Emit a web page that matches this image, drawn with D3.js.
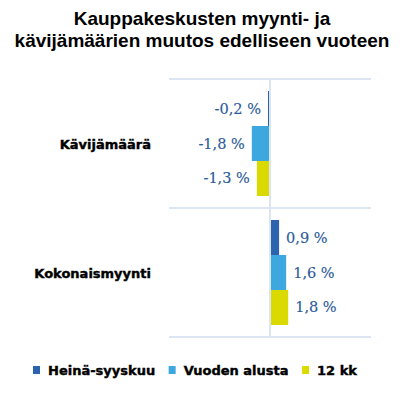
<!DOCTYPE html>
<html>
<head>
<meta charset="utf-8">
<script src="https://cdn.jsdelivr.net/npm/d3@7"></script>
<style>
  html, body { margin: 0; padding: 0; background: #fff; }
  svg { display: block; }
</style>
</head>
<body>
<svg id="chart" width="404" height="395"></svg>
<script>
const titleLines = ["Kauppakeskusten myynti- ja", "kävijämäärien muutos edelliseen vuoteen"];
const categories = ["Kävijämäärä", "Kokonaismyynti"];
const seriesNames = ["Heinä-syyskuu", "Vuoden alusta", "12 kk"];
const seriesColors = ["#2B63AE", "#3DA8DF", "#DADA00"];
const heinaSyyskuu = [-0.2, 0.9];
const vuodenAlusta = [-1.8, 1.6];
const kk12 = [-1.3, 1.8];
const seriesValues = [heinaSyyskuu, vuodenAlusta, kk12];
const xDomain = [-10, 10];

const svg = d3.select("#chart");

// Title
svg.append("text")
  .attr("x", 202).attr("y", 25)
  .attr("text-anchor", "middle")
  .style("font-family", "'Liberation Sans', Arial, sans-serif")
  .style("font-weight", "bold").style("font-size", "19px").style("fill", "#000")
  .selectAll("tspan").data(titleLines).join("tspan")
  .attr("x", 202).attr("dy", (d, i) => i === 0 ? 0 : 22)
  .text(d => d);

const x = d3.scaleLinear().domain(xDomain).range([169, 371]);
const y = d3.scaleBand().domain(categories).range([79, 337]).padding(0);
const yInner = d3.scaleBand().domain(d3.range(seriesNames.length))
  .range([0, y.bandwidth()]).paddingInner(0).paddingOuter(0.343);

// gridlines (category boundaries)
const gridYs = categories.map(c => y(c)).concat([y.range()[1]]);
svg.append("g").selectAll("line").data(gridYs).join("line")
  .attr("x1", x.range()[0]).attr("x2", x.range()[1])
  .attr("y1", d => d).attr("y2", d => d)
  .attr("stroke", "#DCE6F2").attr("stroke-width", 2);

// bars
const data = [];
categories.forEach((c, ci) => {
  seriesValues.forEach((vals, si) => {
    data.push({ cat: c, s: si, v: vals[ci] });
  });
});

svg.append("g").selectAll("rect").data(data).join("rect")
  .attr("x", d => Math.min(x(0), x(d.v)))
  .attr("width", d => Math.abs(x(d.v) - x(0)))
  .attr("y", d => y(d.cat) + yInner(d.s))
  .attr("height", yInner.bandwidth())
  .attr("fill", d => seriesColors[d.s]);

// zero axis line
svg.append("line")
  .attr("x1", x(0)).attr("x2", x(0))
  .attr("y1", y.range()[0]).attr("y2", y.range()[1])
  .attr("stroke", "#DCE6F2").attr("stroke-width", 2);

// value labels
const fmt = v => (v < 0 ? "-" : "") + Math.abs(v).toFixed(1).replace(".", ",") + " %";
svg.append("g").selectAll("text").data(data).join("text")
  .attr("x", d => d.v < 0 ? x(d.v) - 7 : x(d.v) + 7)
  .attr("y", d => y(d.cat) + yInner(d.s) + yInner.bandwidth() / 2 + 5)
  .attr("text-anchor", d => d.v < 0 ? "end" : "start")
  .style("font-family", "'DejaVu Serif', serif")
  .style("font-size", "14.5px")
  .style("fill", "#2B5C9E")
  .style("stroke", "#244E88").style("stroke-width", "0.15px")
  .text(d => fmt(d.v));

// category labels
svg.append("g").selectAll("text").data(categories).join("text")
  .attr("x", 151)
  .attr("y", d => y(d) + y.bandwidth() / 2 + 5)
  .attr("text-anchor", "end")
  .style("font-family", "'DejaVu Sans', sans-serif")
  .style("font-weight", "bold").style("font-size", "13px").style("fill", "#000")
  .style("stroke", "#000").style("stroke-width", "0.4px")
  .text(d => d);

// legend
const legend = svg.append("g");
let lx = 33;
seriesNames.forEach((name, i) => {
  legend.append("rect").attr("x", lx).attr("y", 366).attr("width", 7).attr("height", 8)
    .attr("fill", seriesColors[i]);
  const t = legend.append("text").attr("x", lx + 15).attr("y", 375)
    .style("font-family", "'DejaVu Sans', sans-serif")
    .style("font-weight", "bold").style("font-size", "13px").style("fill", "#000")
    .style("stroke", "#000").style("stroke-width", "0.4px")
    .text(name);
  lx += 15 + t.node().getComputedTextLength() + 13.5;
});
</script>
</body>
</html>
